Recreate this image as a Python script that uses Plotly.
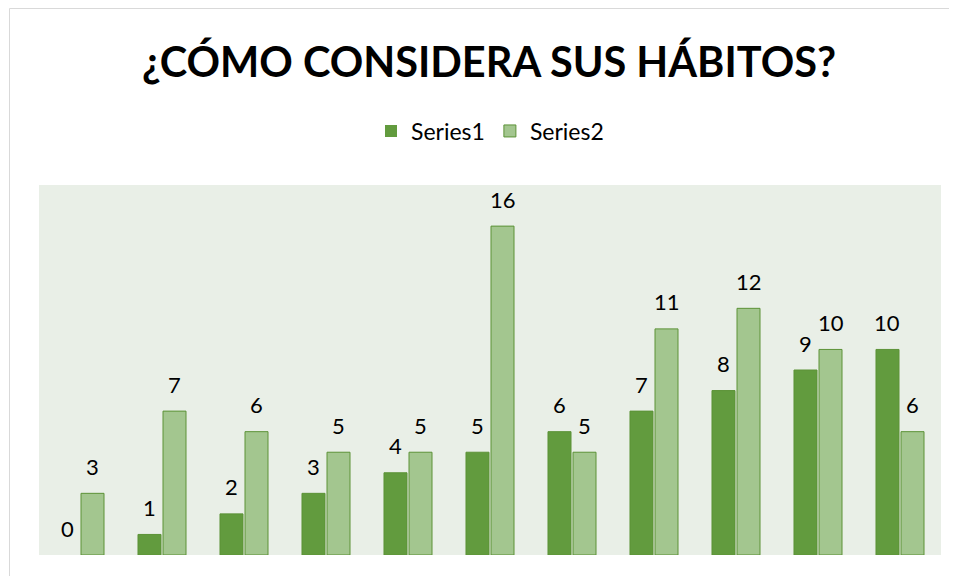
import plotly.graph_objects as go

categories = [str(i) for i in range(1, 12)]
series1 = [0, 1, 2, 3, 4, 5, 6, 7, 8, 9, 10]
series2 = [3, 7, 6, 5, 5, 16, 5, 11, 12, 10, 6]
series_names = ["Series1", "Series2"]
title_text = "¿CÓMO CONSIDERA SUS HÁBITOS?"

FONT = "Lato"
C1, C2, EDGE = "#629B3E", "#A3C68F", "#5C9237"

# page body has an 8px margin, so the figure is drawn at (8, 8)
W, H = 949, 568
ML, MR, MT, MB = 31, 16, 177, 21
pw, ph = W - ML - MR, H - MT - MB
BARGAP, GROUPGAP = 0.39, 0.08

fig = go.Figure()
series = [(series_names[0], series1, C1), (series_names[1], series2, C2)]
for name, vals, col in series:
    fig.add_trace(go.Bar(
        x=categories, y=vals, name=name,
        marker=dict(color=col,
                    line=dict(color=EDGE, width=[0 if v == 0 else 1 for v in vals])),
        cliponaxis=False,
    ))

# data labels above each bar (x given as category index on the category axis)
cat_w = pw / len(categories)
slot = cat_w * (1 - BARGAP) / len(series)
for si, (name, vals, col) in enumerate(series):
    dx = (si - (len(series) - 1) / 2) * slot
    for ci, v in enumerate(vals):
        fig.add_annotation(x=ci, y=v, xref="x", yref="y", text=str(v),
                           showarrow=False, xshift=dx, yshift=27,
                           yanchor="middle", xanchor="center",
                           font=dict(family=FONT, size=22, color="#000000"))

# chart frame (light gray border)
fig.add_shape(type="rect", xref="paper", yref="paper",
              x0=(1.5 - ML) / pw, x1=1.2, y0=-0.2, y1=(H - MB - 0.5) / ph,
              line=dict(color="#D9D9D9", width=1), layer="below")

fig.update_layout(
    width=W, height=H,
    margin=dict(l=ML, r=MR, t=MT, b=MB),
    paper_bgcolor="white", plot_bgcolor="#E9EFE7",
    barmode="group", bargap=BARGAP, bargroupgap=GROUPGAP,
    title=dict(text="<b>" + title_text + "</b>", x=(489 - 8) / W, xanchor="center",
               y=1 - 54 / H, yanchor="middle",
               font=dict(family=FONT, size=41.5, color="#000000")),
    legend=dict(orientation="h", x=0.5, xanchor="center", y=(H - MB - 123) / ph,
                yanchor="middle", font=dict(family=FONT, size=23, color="#000000"),
                itemwidth=30, traceorder="normal"),
    showlegend=True,
    xaxis=dict(visible=False, type="category", categoryorder="array",
               categoryarray=categories, range=[-0.5, len(categories) - 0.5]),
    yaxis=dict(visible=False, range=[0, 18]),
)

fig.write_html("out.html")
